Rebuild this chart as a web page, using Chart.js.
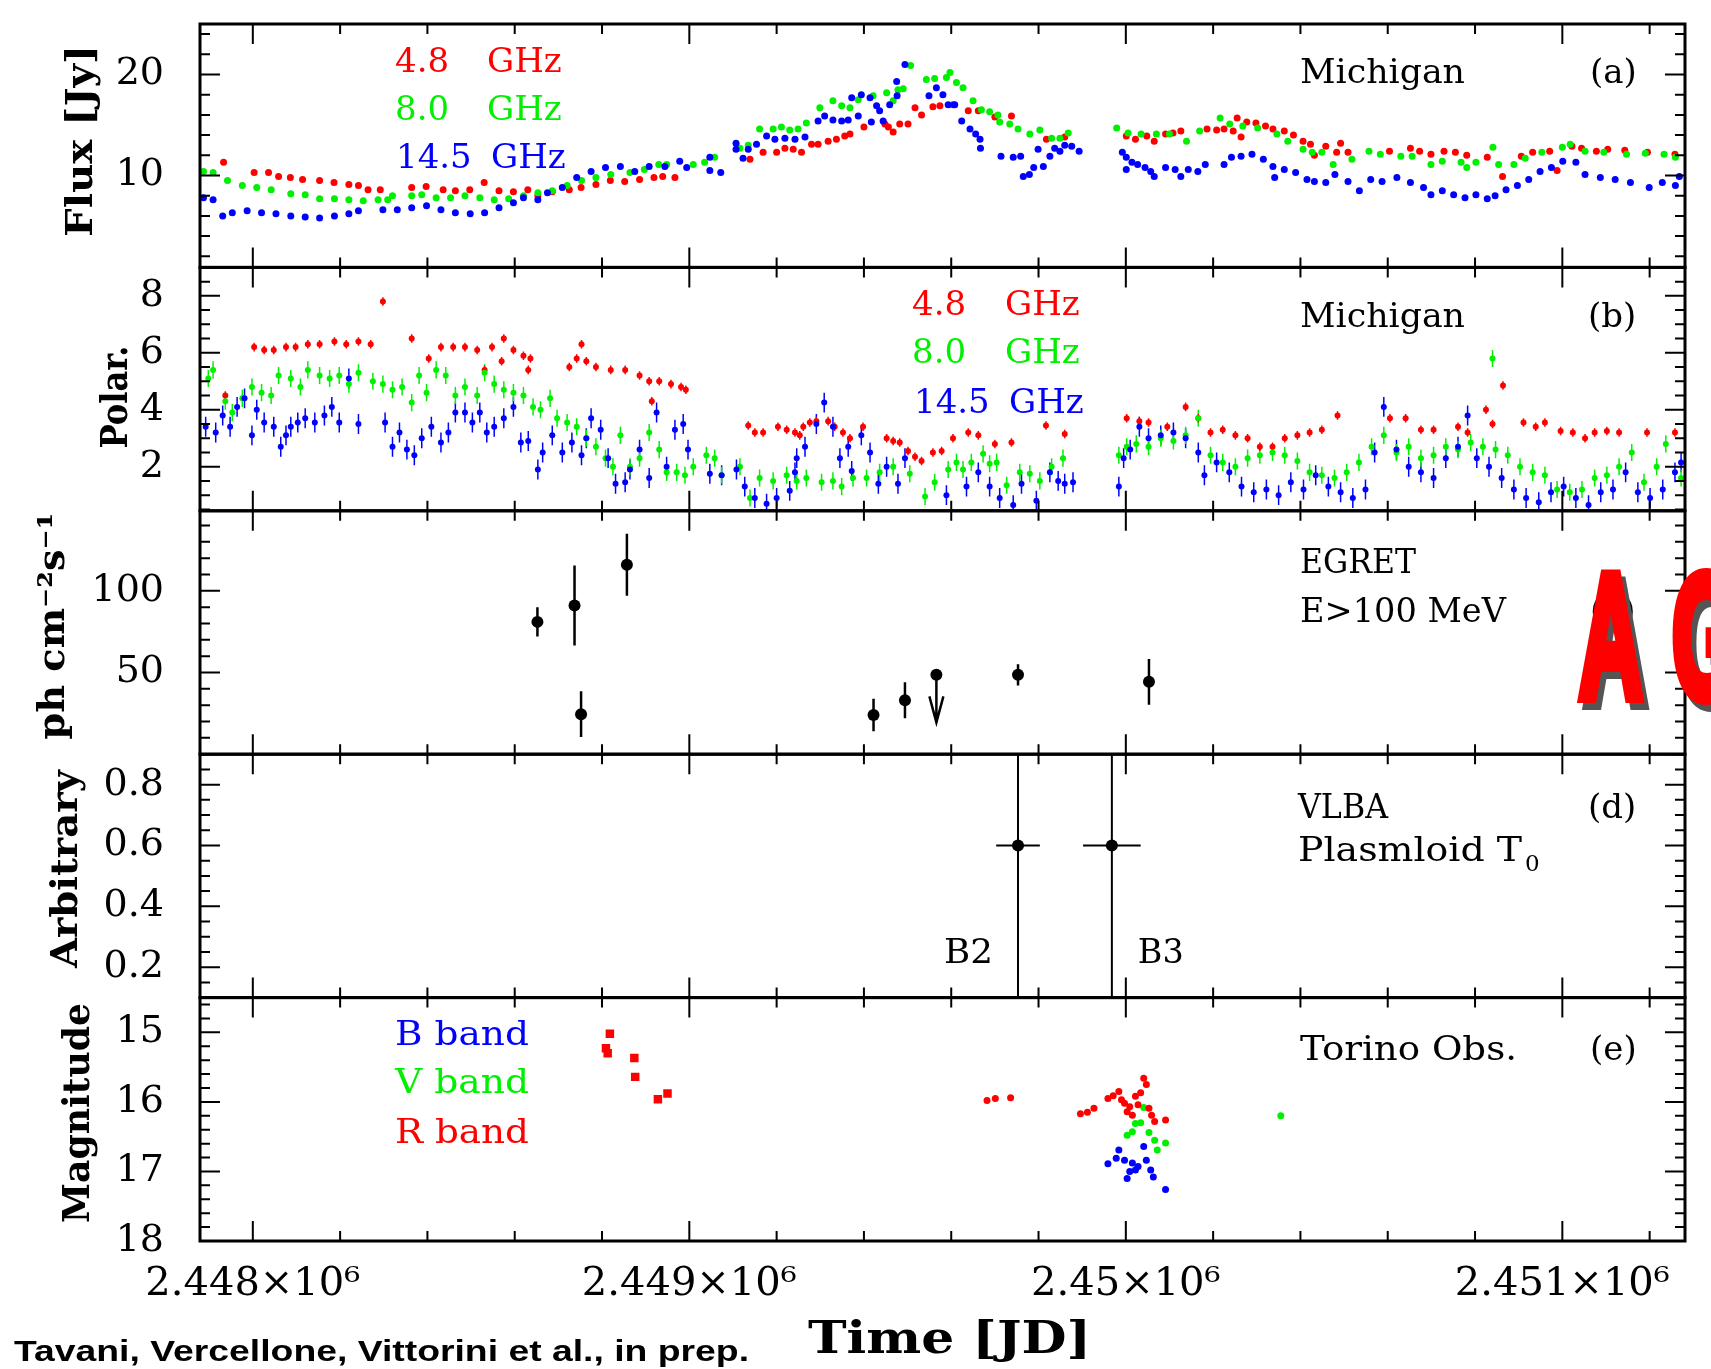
<!DOCTYPE html>
<html>
<head>
<meta charset="utf-8">
<script src="https://cdn.jsdelivr.net/npm/chart.js@4.4.1/dist/chart.umd.min.js"></script>
<style>
  html, body { margin: 0; padding: 0; background: #fff; }
  canvas { display: block; }
</style>
</head>
<body>
<canvas id="myChart" width="1711" height="1369" style="width:1711px;height:1369px"></canvas>
<script>
// ---- (a) Michigan flux [Jy] ----
const fluxJD48 = [2447933, 2448003, 2448036, 2448059, 2448086, 2448114, 2448153, 2448186, 2448220, 2448242, 2448264, 2448292, 2448364, 2448397, 2448436, 2448464, 2448497, 2448530, 2448564, 2448597, 2448630, 2448653, 2448686, 2448725, 2448752, 2448786, 2448819, 2448852, 2448886, 2448919, 2448939, 2448967,
  2449139, 2449169, 2449200, 2449219, 2449238, 2449257, 2449280, 2449295, 2449318, 2449337, 2449356, 2449368, 2449400, 2449448, 2449456, 2449467, 2449482, 2449501, 2449517, 2449532, 2449558, 2449574, 2449604, 2449639, 2449662, 2449700, 2449738, 2449818, 2449860,
  2450001, 2450022, 2450048, 2450065, 2450091, 2450108, 2450126, 2450186, 2450208, 2450225, 2450246, 2450255, 2450264, 2450277, 2450298, 2450320, 2450337, 2450363, 2450384, 2450406, 2450423, 2450432, 2450458, 2450483, 2450492, 2450509, 2450604, 2450652, 2450673, 2450699, 2450729, 2450755, 2450781, 2450828, 2450863, 2450906, 2450932, 2450971, 2450988, 2451022, 2451044, 2451078, 2451104, 2451143, 2451195, 2451258];
const flux48 = [11.3, 10.3, 10.3, 9.9, 9.8, 9.6, 9.5, 9.3, 9.1, 9.0, 8.6, 8.6, 8.8, 8.9, 8.6, 8.5, 8.6, 9.3, 8.5, 8.4, 8.6, 8.0, 8.4, 8.6, 8.8, 9.1, 9.5, 9.4, 9.6, 9.8, 9.9, 9.8,
  11.6, 12.3, 12.3, 12.7, 12.6, 12.3, 13.1, 13.1, 13.4, 13.6, 13.9, 14.1, 14.8, 15.1, 14.8, 14.3, 15.1, 15.1, 16.7, 16.0, 16.8, 16.9, 17.0, 16.4, 16.4, 15.8, 15.9, 13.6, 13.8,
  13.9, 13.6, 13.9, 13.4, 14.1, 14.2, 14.4, 14.6, 14.5, 14.6, 14.4, 15.7, 13.8, 15.3, 15.2, 14.9, 14.6, 14.4, 14.0, 13.4, 13.1, 12.0, 12.9, 12.3, 13.2, 12.3, 12.4, 12.7, 12.4, 12.1, 12.4, 12.3, 12.0, 11.8, 9.9, 11.9, 12.3, 12.4, 10.5, 12.9, 12.7, 12.4, 12.6, 12.5, 12.3, 12.1];

const fluxJD80 = [2447887, 2447909, 2447942, 2447976, 2448009, 2448042, 2448087, 2448120, 2448153, 2448187, 2448220, 2448253, 2448287, 2448309, 2448320, 2448364, 2448387, 2448420, 2448453, 2448486, 2448520, 2448553, 2448586, 2448620, 2448653, 2448686, 2448720, 2448753, 2448786, 2448820, 2448864, 2448897, 2448930,
  2448948, 2449009, 2449035, 2449058, 2449116, 2449135, 2449161, 2449192, 2449211, 2449230, 2449249, 2449268, 2449299, 2449329, 2449349, 2449368, 2449387, 2449421, 2449452, 2449467, 2449478, 2449490, 2449507, 2449543, 2449562, 2449589, 2449597, 2449612, 2449627, 2449650, 2449669, 2449688, 2449707, 2449711, 2449734, 2449753, 2449780, 2449803, 2449830, 2449849, 2449868,
  2449979, 2450005, 2450035, 2450070, 2450100, 2450139, 2450169, 2450216, 2450238, 2450268, 2450302, 2450346, 2450371, 2450406, 2450427, 2450449, 2450475, 2450518, 2450557, 2450583, 2450630, 2450656, 2450699, 2450725, 2450768, 2450781, 2450802, 2450841, 2450854, 2450889, 2450915, 2450953, 2451000, 2451018, 2451052, 2451095, 2451147, 2451190, 2451233, 2451259];
const flux80 = [10.4, 10.3, 9.5, 9.0, 8.8, 8.6, 8.2, 8.1, 7.7, 7.7, 7.6, 7.5, 7.6, 7.6, 8.0, 8.0, 8.1, 7.8, 7.8, 8.0, 7.8, 7.6, 7.7, 8.0, 8.3, 8.5, 9.0, 9.5, 9.8, 10.1, 10.3, 10.6, 11.1,
  11.1, 11.1, 11.3, 11.8, 12.7, 13.0, 14.6, 14.6, 14.8, 14.5, 14.6, 15.2, 16.7, 17.4, 16.9, 16.7, 17.5, 17.9, 18.2, 17.4, 18.5, 18.6, 20.9, 19.5, 19.6, 19.7, 20.2, 19.2, 18.7, 17.4, 16.5, 16.3, 16.0, 15.3, 15.1, 14.6, 14.1, 14.5, 13.7, 13.7, 14.2,
  14.7, 14.2, 14.1, 14.1, 14.1, 13.4, 14.4, 15.7, 15.1, 14.9, 14.7, 14.1, 13.4, 12.6, 12.3, 12.3, 11.1, 11.6, 12.4, 12.1, 11.9, 11.9, 11.1, 11.4, 11.3, 10.8, 11.3, 12.8, 11.1, 11.1, 11.7, 12.3, 12.8, 13.1, 12.4, 12.3, 12.1, 12.2, 12.1, 11.8];

const fluxJD145 = [2447887, 2447909, 2447931, 2447953, 2447987, 2448020, 2448053, 2448087, 2448120, 2448153, 2448187, 2448220, 2448242, 2448298, 2448331, 2448364, 2448398, 2448431, 2448464, 2448498, 2448531, 2448564, 2448597, 2448620, 2448653, 2448675, 2448709, 2448742, 2448775, 2448808, 2448842, 2448875, 2448908,
  2448944, 2448978, 2448994, 2449047, 2449047, 2449072, 2449107, 2449107, 2449123, 2449135, 2449154, 2449177, 2449196, 2449219, 2449242, 2449265, 2449295, 2449310, 2449329, 2449349, 2449364, 2449372, 2449387, 2449394, 2449414, 2449417, 2449429, 2449436, 2449444, 2449459, 2449475, 2449476, 2449494, 2449549, 2449566, 2449581, 2449593, 2449608, 2449624, 2449643, 2449656, 2449666, 2449667, 2449714, 2449742, 2449759, 2449765, 2449779, 2449789, 2449799, 2449811, 2449826, 2449837, 2449849, 2449860, 2449876, 2449893,
  2449992, 2450001, 2450001, 2450014, 2450027, 2450044, 2450057, 2450065, 2450091, 2450113, 2450126, 2450143, 2450165, 2450182, 2450225, 2450242, 2450264, 2450289, 2450315, 2450337, 2450341, 2450363, 2450389, 2450415, 2450432, 2450458, 2450479, 2450509, 2450535, 2450561, 2450587, 2450621, 2450652, 2450682, 2450699, 2450725, 2450751, 2450777, 2450802, 2450828, 2450846, 2450871, 2450897, 2450923, 2450949, 2450975, 2451001, 2451031, 2451052, 2451087, 2451121, 2451156, 2451199, 2451229, 2451259, 2451268];
const flux145 = [7.8, 7.6, 6.0, 6.3, 6.5, 6.3, 6.2, 6.0, 5.9, 5.8, 6.0, 6.2, 6.5, 6.6, 6.6, 6.8, 7.0, 6.6, 6.3, 6.2, 6.3, 6.8, 7.3, 7.8, 7.6, 8.3, 8.8, 9.8, 10.4, 10.8, 10.9, 10.4, 10.9,
  10.9, 11.4, 10.8, 11.8, 10.5, 10.3, 13.2, 12.6, 11.7, 12.6, 13.1, 13.9, 13.6, 13.7, 13.6, 13.8, 15.4, 15.9, 15.5, 15.4, 15.5, 17.7, 15.9, 18.0, 17.7, 15.3, 16.9, 16.4, 15.4, 17.0, 19.3, 17.9, 21.0, 17.9, 18.7, 18.0, 17.0, 17.0, 15.4, 14.6, 14.1, 13.6, 12.7, 11.9, 11.8, 11.9, 9.9, 10.1, 10.8, 12.6, 10.9, 11.9, 12.7, 12.4, 13.0, 12.9, 12.4,
  12.3, 11.8, 10.6, 11.3, 11.1, 10.8, 10.4, 9.9, 10.8, 10.6, 9.9, 10.6, 10.4, 11.1, 11.1, 11.8, 11.9, 12.1, 11.6, 10.9, 9.8, 10.6, 10.3, 9.6, 9.4, 9.3, 10.1, 9.4, 8.5, 9.6, 9.4, 9.8, 9.3, 8.8, 8.1, 8.5, 8.1, 7.8, 8.1, 7.7, 8.0, 8.6, 9.0, 9.6, 10.4, 10.8, 11.4, 11.3, 10.1, 9.8, 9.6, 9.3, 8.8, 9.3, 9.0, 9.9];

// ---- (b) Michigan polarization [%] ----
const polJD48 = [2447937, 2448003, 2448026, 2448048, 2448076, 2448098, 2448126, 2448153, 2448187, 2448214, 2448242, 2448270, 2448298, 2448364, 2448403, 2448431, 2448459, 2448486, 2448514, 2448531, 2448548, 2448570, 2448575, 2448597, 2448620, 2448631, 2448636, 2448725, 2448742, 2448753, 2448764, 2448786, 2448820, 2448853, 2448886, 2448908, 2448914, 2448931, 2448958, 2448981, 2448992,
  2449135, 2449150, 2449169, 2449203, 2449223, 2449242, 2449253, 2449261, 2449276, 2449291, 2449318, 2449333, 2449352, 2449368, 2449398, 2449452, 2449467, 2449482, 2449501, 2449517, 2449532, 2449558, 2449578, 2449604, 2449639, 2449662, 2449700, 2449738, 2449817, 2449860,
  2450002, 2450031, 2450052, 2450095, 2450137, 2450166, 2450194, 2450222, 2450251, 2450279, 2450307, 2450336, 2450364, 2450393, 2450421, 2450449, 2450485, 2450605, 2450641, 2450676, 2450705, 2450761, 2450783, 2450825, 2450840, 2450864, 2450911, 2450939, 2450960, 2450996, 2451024, 2451052, 2451074, 2451102, 2451130, 2451194, 2451258];
const pol48 = [4.5, 6.2, 6.1, 6.1, 6.2, 6.2, 6.3, 6.3, 6.4, 6.3, 6.4, 6.3, 7.8, 6.5, 5.8, 6.2, 6.2, 6.2, 6.1, 5.4, 6.2, 5.7, 6.5, 6.1, 5.9, 5.4, 5.8, 5.5, 5.8, 6.3, 5.7, 5.5, 5.4, 5.4, 5.2, 5.0, 4.3, 5.0, 4.9, 4.8, 4.7,
  3.45, 3.2, 3.2, 3.4, 3.3, 3.2, 3.1, 3.4, 3.55, 3.6, 3.6, 3.4, 3.2, 3.0, 3.4, 3.0, 2.9, 2.85, 2.55, 2.35, 2.2, 2.5, 2.55, 3.0, 3.2, 3.1, 2.8, 2.85, 3.45, 3.15,
  3.7, 3.6, 3.55, 3.4, 4.1, 3.7, 3.2, 3.3, 3.1, 3.0, 2.7, 2.7, 3.0, 3.1, 3.2, 3.3, 3.8, 3.7, 3.7, 3.3, 3.3, 3.4, 3.2, 4.0, 3.5, 4.85, 3.55, 3.4, 3.55, 3.25, 3.2, 3.0, 3.2, 3.25, 3.2, 3.2, 3.2];

const polJD80 = [2447898, 2447909, 2447937, 2447953, 2447976, 2447998, 2448020, 2448042, 2448059, 2448087, 2448109, 2448126, 2448153, 2448176, 2448198, 2448220, 2448242, 2448275, 2448298, 2448320, 2448342, 2448364, 2448381, 2448398, 2448420, 2448442, 2448464, 2448486, 2448514, 2448531, 2448553, 2448575, 2448597, 2448620, 2448642, 2448659, 2448681, 2448697, 2448720, 2448742, 2448764, 2448786, 2448808, 2448825, 2448842, 2448864, 2448886, 2448908, 2448931,
  2448948, 2448971, 2448990, 2449009, 2449039, 2449058, 2449074, 2449116, 2449139, 2449161, 2449192, 2449223, 2449246, 2449268, 2449303, 2449329, 2449349, 2449375, 2449406, 2449436, 2449467, 2449505, 2449540, 2449562, 2449593, 2449612, 2449627, 2449646, 2449673, 2449688, 2449704, 2449727, 2449757, 2449780, 2449803, 2449830, 2449856,
  2449984, 2450002, 2450024, 2450052, 2450080, 2450109, 2450137, 2450166, 2450194, 2450222, 2450251, 2450279, 2450307, 2450336, 2450364, 2450393, 2450421, 2450449, 2450478, 2450506, 2450534, 2450563, 2450591, 2450620, 2450648, 2450676, 2450705, 2450733, 2450761, 2450790, 2450818, 2450840, 2450847, 2450875, 2450903, 2450932, 2450960, 2450988, 2451017, 2451045, 2451074, 2451102, 2451130, 2451159, 2451187, 2451216, 2451237, 2451272];
const pol80 = [5.1, 5.4, 4.3, 3.9, 4.4, 4.8, 4.6, 4.5, 5.2, 5.1, 4.8, 5.4, 5.2, 5.1, 5.2, 4.9, 5.3, 5.0, 4.9, 4.7, 4.8, 4.25, 5.2, 4.6, 5.4, 5.2, 4.5, 4.8, 4.5, 5.3, 4.9, 4.7, 4.6, 4.5, 4.1, 4.0, 4.4, 3.7, 3.55, 3.4, 3.0, 2.7, 2.3, 2.0, 3.1, 2.0, 2.3, 3.2, 2.6,
  1.8, 1.8, 1.7, 2.0, 2.4, 2.3, 1.7, 2.0, 0.9, 1.6, 1.5, 1.7, 1.5, 1.6, 1.45, 1.5, 1.3, 1.6, 1.6, 1.8, 2.0, 1.75, 0.95, 1.45, 1.9, 2.15, 1.9, 2.15, 2.45, 2.1, 2.15, 1.35, 1.8, 1.75, 1.5, 2.0, 2.3,
  2.4, 2.7, 2.8, 2.7, 3.0, 2.9, 3.1, 3.7, 2.4, 2.15, 2.0, 2.3, 2.4, 2.5, 2.4, 2.2, 1.8, 1.7, 1.6, 1.8, 2.15, 2.7, 3.1, 2.5, 2.7, 2.3, 2.4, 2.7, 2.6, 2.85, 2.7, 5.8, 2.6, 2.4, 2.0, 1.8, 1.7, 1.2, 1.1, 1.2, 1.6, 1.7, 2.0, 2.5, 1.45, 2.0, 2.8, 1.6];

const polJD145 = [2447892, 2447915, 2447931, 2447948, 2447964, 2447981, 2447998, 2448009, 2448026, 2448048, 2448064, 2448076, 2448087, 2448103, 2448120, 2448142, 2448164, 2448181, 2448198, 2448220, 2448242, 2448303, 2448320, 2448336, 2448353, 2448370, 2448387, 2448409, 2448431, 2448448, 2448464, 2448486, 2448503, 2448520, 2448536, 2448553, 2448575, 2448597, 2448614, 2448631, 2448653, 2448664, 2448686, 2448709, 2448731, 2448753, 2448764, 2448775, 2448797, 2448814, 2448831, 2448853, 2448864, 2448886, 2448908, 2448925,
  2448948, 2448967, 2448986, 2448997, 2449047, 2449074, 2449108, 2449127, 2449150, 2449177, 2449200, 2449230, 2449242, 2449246, 2449265, 2449291, 2449309, 2449329, 2449345, 2449364, 2449372, 2449394, 2449414, 2449433, 2449452, 2449478, 2449494, 2449589, 2449635, 2449662, 2449688, 2449711, 2449742, 2449761, 2449795, 2449826, 2449845, 2449860, 2449879,
  2449984, 2449995, 2450010, 2450031, 2450052, 2450080, 2450109, 2450137, 2450166, 2450180, 2450208, 2450237, 2450265, 2450293, 2450322, 2450350, 2450378, 2450407, 2450435, 2450464, 2450492, 2450520, 2450549, 2450570, 2450591, 2450620, 2450648, 2450676, 2450705, 2450733, 2450761, 2450783, 2450804, 2450832, 2450861, 2450889, 2450917, 2450946, 2450974, 2451003, 2451031, 2451060, 2451088, 2451116, 2451145, 2451173, 2451201, 2451230, 2451258, 2451272];
const pol145 = [3.4, 3.2, 3.8, 3.4, 4.1, 4.4, 3.1, 4.0, 3.55, 3.4, 2.7, 3.1, 3.4, 3.55, 3.7, 3.55, 3.8, 4.1, 3.55, 5.1, 3.5, 3.55, 2.7, 3.2, 2.6, 2.4, 3.0, 3.4, 2.85, 3.2, 3.9, 3.9, 3.55, 3.9, 3.2, 3.4, 3.7, 4.1, 2.85, 2.9, 1.9, 2.5, 3.1, 2.5, 2.85, 2.4, 3.0, 3.7, 3.3, 2.3, 1.4, 1.45, 1.9, 2.6, 1.6, 3.9,
  2.0, 3.3, 3.5, 2.6, 1.75, 1.7, 1.9, 1.3, 0.9, 0.7, 0.9, 1.15, 1.8, 2.3, 2.7, 3.5, 4.25, 3.4, 2.3, 2.7, 1.85, 3.1, 2.5, 1.4, 2.0, 1.4, 2.3, 1.0, 1.3, 1.8, 1.3, 0.9, 0.65, 1.4, 0.8, 1.8, 1.5, 1.4, 1.45,
  1.3, 2.3, 2.6, 3.4, 3.0, 3.1, 3.2, 3.0, 2.5, 1.7, 2.15, 1.8, 1.3, 1.1, 1.2, 1.0, 1.45, 1.2, 1.7, 1.3, 1.1, 0.9, 1.2, 2.5, 4.1, 2.6, 2.0, 1.8, 1.6, 2.3, 2.7, 3.8, 2.3, 2.0, 1.6, 1.2, 0.9, 0.75, 1.1, 1.3, 0.9, 0.65, 1.1, 1.2, 1.8, 1.1, 0.9, 1.2, 1.8, 2.15];

// ---- (c) EGRET E>100 MeV ----
const egretJD = [2448652, 2448737, 2448752, 2448857, 2449422, 2449494, 2449753, 2450053];
const egretFlux = [81, 91, 24.5, 116, 24, 33, 48.6, 44.3];
const egretErr = [9, 24.5, 14, 19, 10, 11, 6.5, 14];
const egretUlJD = [2449566];
const egretUl = [48.6];
const egretUlTip = [19.5];

// ---- (d) VLBA plasmoid T0 ----
const vlbaJD = [2449753, 2449968];
const vlbaVal = [0.6, 0.6];
const vlbaErrJD = [50, 66];
const vlbaNames = ['B2', 'B3'];

// ---- (e) Torino Obs. magnitudes ----
const magRsqJD = [2448818, 2448809, 2448813, 2448874, 2448876, 2448928, 2448950];
const magRsq = [15.02, 15.23, 15.30, 15.37, 15.64, 15.96, 15.88];
const magRJD = [2449682, 2449701, 2449736, 2449896, 2449912, 2449927, 2449959, 2449971, 2449984, 2449990, 2449997, 2450003, 2450009, 2450015, 2450022, 2450028, 2450034, 2450041, 2450047, 2450053, 2450059, 2450066, 2450091];
const magR = [15.98, 15.95, 15.94, 16.17, 16.15, 16.09, 15.95, 15.91, 15.85, 15.97, 16.02, 16.14, 16.07, 16.19, 15.92, 16.04, 15.87, 15.66, 15.75, 16.09, 16.19, 16.28, 16.26];
const magVJD = [2450003, 2450015, 2450022, 2450034, 2450041, 2450053, 2450066, 2450072, 2450091, 2450355];
const magV = [16.48, 16.43, 16.31, 16.30, 16.08, 16.44, 16.55, 16.69, 16.59, 16.20];
const magBJD = [2449959, 2449978, 2449984, 2449997, 2450003, 2450009, 2450015, 2450022, 2450028, 2450041, 2450047, 2450057, 2450063, 2450091];
const magB = [16.89, 16.81, 16.69, 16.84, 17.10, 17.00, 16.88, 16.98, 16.93, 16.64, 16.84, 16.98, 17.08, 17.26];

// ---- axes ----
const timeTicks = [2448000, 2449000, 2450000, 2451000];
const timeTickLabels = ['2.448×10⁶', '2.449×10⁶', '2.45×10⁶', '2.451×10⁶'];
const fluxTicks = [10, 20];
const polTicks = [2, 4, 6, 8];
const egretTicks = [50, 100];
const arbTicks = [0.2, 0.4, 0.6, 0.8];
const magTicks = [15, 16, 17, 18];

const RED = '#ff0000', GREEN = '#00f000', BLUE = '#0000ff', BLACK = '#000000';

// minor / major tick spacing for the inward tick marks
const tickSteps = {
  yA: [2, 10], yB: [0.5, 2], yC: [10, 50], yD: [0.05, 0.2], yE: [0.2, 1]
};

function ds(xs, ys, color, yAxisID, radius, extra) {
  return Object.assign({
    data: xs.map((x, i) => ({ x: x, y: ys[i] })),
    yAxisID: yAxisID,
    backgroundColor: color,
    borderColor: color,
    pointRadius: radius,
    pointHoverRadius: radius,
    pointBorderWidth: 0
  }, extra || {});
}

// drop the label overhang padding so the plot frame sits where we want it
function noPad(s) {
  s.paddingTop = 0; s.paddingBottom = 0; s.paddingLeft = 0; s.paddingRight = 0;
}

function yAxis(min, max, ticks, reverse) {
  return {
    type: 'linear', position: 'left', stack: 'panels', stackWeight: 1,
    min: min, max: max, reverse: !!reverse,
    grid: { display: false }, border: { display: false },
    afterBuildTicks: s => { s.ticks = ticks.map(v => ({ value: v })); },
    afterFit: s => { s.width = 200; noPad(s); },
    ticks: { color: BLACK, padding: 28, autoSkip: false, font: { family: 'DejaVu Serif', size: 38 }, callback: v => String(v) }
  };
}

function drawText(ctx, s, x, y, font, color, width) {
  ctx.save();
  ctx.font = font;
  ctx.fillStyle = color;
  ctx.textAlign = 'left';
  ctx.textBaseline = 'alphabetic';
  const w = ctx.measureText(s).width;
  ctx.translate(x, y);
  if (width) ctx.scale(width / w, 1);
  ctx.fillText(s, 0, 0);
  ctx.restore();
}

function drawVText(ctx, s, x, yc, font, width) {
  ctx.save();
  ctx.font = font;
  ctx.fillStyle = BLACK;
  ctx.textAlign = 'center';
  ctx.textBaseline = 'alphabetic';
  const w = ctx.measureText(s).width;
  ctx.translate(x, yc);
  ctx.rotate(-Math.PI / 2);
  ctx.scale(width / w, 1);
  ctx.fillText(s, 0, 0);
  ctx.restore();
}

const panelPlugin = {
  id: 'panelPlugin',
  beforeDatasetsDraw(chart) {
    const ctx = chart.ctx;
    const xs = chart.scales.x;
    chart.data.datasets.forEach((d) => {
      if (d.errY === undefined && d.errX === undefined && d.arrowTo === undefined) return;
      const ys = chart.scales[d.yAxisID];
      ctx.save();
      ctx.beginPath();
      ctx.rect(xs.left, ys.top, xs.right - xs.left, ys.bottom - ys.top);
      ctx.clip();
      ctx.strokeStyle = d.borderColor;
      ctx.lineWidth = d.errWidth || 1.5;
      ctx.beginPath();
      d.data.forEach((p, j) => {
        const px = xs.getPixelForValue(p.x);
        const py = ys.getPixelForValue(p.y);
        if (d.errY !== undefined) {
          const e = Array.isArray(d.errY) ? d.errY[j] : d.errY;
          ctx.moveTo(px, ys.getPixelForValue(p.y - e));
          ctx.lineTo(px, ys.getPixelForValue(p.y + e));
        }
        if (d.errX !== undefined) {
          const e = d.errX[j];
          ctx.moveTo(xs.getPixelForValue(p.x - e), py);
          ctx.lineTo(xs.getPixelForValue(p.x + e), py);
        }
        if (d.arrowTo !== undefined) {
          const ty = ys.getPixelForValue(d.arrowTo[j]);
          ctx.moveTo(px, py);
          ctx.lineTo(px, ty);
          ctx.moveTo(px - 7, ty - 26);
          ctx.lineTo(px, ty);
          ctx.lineTo(px + 7, ty - 26);
        }
      });
      ctx.stroke();
      ctx.restore();
    });
  },
  afterDatasetsDraw(chart) {
    const ctx = chart.ctx;
    const xs = chart.scales.x;
    const L = chart.chartArea.left, R = chart.chartArea.right;
    ctx.save();
    ctx.strokeStyle = BLACK;
    ['yA', 'yB', 'yC', 'yD', 'yE'].forEach(id => {
      const ys = chart.scales[id];
      const T = ys.top, B = ys.bottom;
      ctx.lineWidth = 2;
      ctx.beginPath();
      // x ticks, every 200 days, long at every 1000
      for (let k = Math.ceil(xs.min / 200); k * 200 <= xs.max; k++) {
        const v = k * 200;
        const px = xs.getPixelForValue(v);
        const len = (v % 1000 === 0) ? 20 : 10;
        ctx.moveTo(px, B); ctx.lineTo(px, B - len);
        ctx.moveTo(px, T); ctx.lineTo(px, T + len);
      }
      // y ticks, both sides
      const [minor, major] = tickSteps[id];
      const lo = Math.min(ys.min, ys.max), hi = Math.max(ys.min, ys.max);
      for (let k = Math.ceil(lo / minor - 1e-6); k * minor <= hi + 1e-9; k++) {
        const v = k * minor;
        const r = v / major;
        const isMajor = Math.abs(r - Math.round(r)) < 1e-6;
        const len = isMajor ? 20 : 10;
        const py = ys.getPixelForValue(v);
        ctx.moveTo(L, py); ctx.lineTo(L + len, py);
        ctx.moveTo(R, py); ctx.lineTo(R - len, py);
      }
      ctx.stroke();
      ctx.lineWidth = 3;
      ctx.strokeRect(L, T, R - L, B - T);
    });
    ctx.restore();
  },
  afterDraw(chart) {
    const ctx = chart.ctx;
    const serif = '34px "DejaVu Serif"';
    const bold = 'bold 37px "DejaVu Serif"';

    // (a)
    drawText(ctx, '4.8', 395, 72, serif, RED);
    drawText(ctx, 'GHz', 487, 72, serif, RED);
    drawText(ctx, '8.0', 395, 120, serif, GREEN);
    drawText(ctx, 'GHz', 487, 120, serif, GREEN);
    drawText(ctx, '14.5', 396, 168, serif, BLUE);
    drawText(ctx, 'GHz', 491, 168, serif, BLUE);
    drawText(ctx, 'Michigan', 1300, 83, serif, BLACK, 165);
    drawText(ctx, '(a)', 1590, 83, serif, BLACK);

    // (b)
    drawText(ctx, '4.8', 912, 315, serif, RED);
    drawText(ctx, 'GHz', 1005, 315, serif, RED);
    drawText(ctx, '8.0', 912, 363, serif, GREEN);
    drawText(ctx, 'GHz', 1005, 363, serif, GREEN);
    drawText(ctx, '14.5', 914, 413, serif, BLUE);
    drawText(ctx, 'GHz', 1009, 413, serif, BLUE);
    drawText(ctx, 'Michigan', 1300, 327, serif, BLACK, 165);
    drawText(ctx, '(b)', 1588, 327, serif, BLACK);

    // (c)
    drawText(ctx, 'EGRET', 1300, 573, serif, BLACK, 116);
    drawText(ctx, 'E>100 MeV', 1300, 622, serif, BLACK, 206);
    drawText(ctx, '(c)', 1590, 622, serif, BLACK);

    // (d)
    drawText(ctx, 'VLBA', 1298, 818, serif, BLACK, 90);
    drawText(ctx, 'Plasmloid T', 1298, 861, serif, BLACK, 224);
    drawText(ctx, '0', 1525, 871, '23px "DejaVu Serif"', BLACK);
    drawText(ctx, '(d)', 1588, 818, serif, BLACK);
    const xs = chart.scales.x;
    drawText(ctx, vlbaNames[0], xs.getPixelForValue(vlbaJD[0]) - 74, 963, serif, BLACK, 49);
    drawText(ctx, vlbaNames[1], xs.getPixelForValue(vlbaJD[1]) + 26, 963, serif, BLACK, 46);

    // (e)
    drawText(ctx, 'B band', 395, 1045, serif, BLUE, 134);
    drawText(ctx, 'V band', 395, 1093, serif, GREEN, 134);
    drawText(ctx, 'R band', 395, 1143, serif, RED, 134);
    drawText(ctx, 'Torino Obs.', 1300, 1060, serif, BLACK, 217);
    drawText(ctx, '(e)', 1590, 1060, serif, BLACK);

    // y-axis titles
    drawVText(ctx, 'Flux [Jy]', 92, 141, bold, 192);
    drawVText(ctx, 'Polar.', 127, 397, bold, 103);
    drawVText(ctx, 'ph cm⁻²s⁻¹', 64, 626, bold, 227);
    drawVText(ctx, 'Arbitrary', 77, 869, bold, 198);
    drawVText(ctx, 'Magnitude', 89, 1113, bold, 220);

    // x-axis title and credit line
    drawText(ctx, 'Time [JD]', 808, 1353, 'bold 44px "DejaVu Serif"', BLACK, 283);
    drawText(ctx, 'Tavani, Vercellone, Vittorini et al., in prep.', 14, 1361, 'bold 29px "Liberation Sans", Arial, sans-serif', BLACK, 735);

    // AG logo, heavy condensed letters with a grey drop shadow
    ctx.save();
    ctx.font = 'bold 176px "Liberation Sans", Arial, sans-serif';
    ctx.textBaseline = 'alphabetic';
    ctx.lineJoin = 'miter';
    [['#555555', 5, 7], [RED, 0, 0]].forEach(([c, dx, dy]) => {
      ctx.fillStyle = c;
      ctx.strokeStyle = c;
      ctx.lineWidth = 12;
      [['A', 1579], ['G', 1672]].forEach(([ch, x0]) => {
        ctx.save();
        ctx.translate(x0 + dx, 697 + dy);
        ctx.scale(0.5, 1);
        ctx.fillText(ch, 0, 0);
        ctx.strokeText(ch, 0, 0);
        ctx.restore();
      });
    });
    ctx.restore();
  }
};

const data = {
  datasets: [
    ds(fluxJD145, flux145, BLUE, 'yA', 3.5),
    ds(fluxJD80, flux80, GREEN, 'yA', 3.5),
    ds(fluxJD48, flux48, RED, 'yA', 3.5),
    ds(polJD145, pol145, BLUE, 'yB', 3, { errY: 0.35 }),
    ds(polJD80, pol80, GREEN, 'yB', 3, { errY: 0.3 }),
    ds(polJD48, pol48, RED, 'yB', 3, { errY: 0.15 }),
    ds(egretJD, egretFlux, BLACK, 'yC', 6, { errY: egretErr, errWidth: 2.5 }),
    ds(egretUlJD, egretUl, BLACK, 'yC', 6, { arrowTo: egretUlTip, errWidth: 2.5 }),
    ds(vlbaJD, vlbaVal, BLACK, 'yD', 6, { errX: vlbaErrJD, errY: 1, errWidth: 2 }),
    ds(magRsqJD, magRsq, RED, 'yE', 6, { pointStyle: 'rect' }),
    ds(magRJD, magR, RED, 'yE', 3.5),
    ds(magVJD, magV, GREEN, 'yE', 3.5),
    ds(magBJD, magB, BLUE, 'yE', 3.5)
  ]
};

const config = {
  type: 'scatter',
  data: data,
  options: {
    responsive: false,
    devicePixelRatio: 1,
    animation: false,
    events: [],
    layout: { padding: { left: 0, top: 24, right: 26, bottom: 0 } },
    plugins: { legend: { display: false }, tooltip: { enabled: false } },
    scales: {
      x: {
        type: 'linear', position: 'bottom', min: 2447879, max: 2451281,
        grid: { display: false }, border: { display: false },
        afterBuildTicks: s => { s.ticks = timeTicks.map(v => ({ value: v })); },
        afterFit: s => { s.height = 128; noPad(s); },
        ticks: {
          color: BLACK, padding: 12, maxRotation: 0, autoSkip: false,
          font: { family: 'DejaVu Serif', size: 40 },
          callback: v => timeTickLabels[timeTicks.indexOf(v)]
        }
      },
      yE: yAxis(14.5, 18, magTicks, true),
      yD: yAxis(0.1, 0.9, arbTicks),
      yC: yAxis(0, 149, egretTicks),
      yB: yAxis(0.45, 9, polTicks),
      yA: yAxis(0.9, 25, fluxTicks)
    }
  },
  plugins: [panelPlugin]
};

const myChart = new Chart(document.getElementById('myChart'), config);
</script>
</body>
</html>
